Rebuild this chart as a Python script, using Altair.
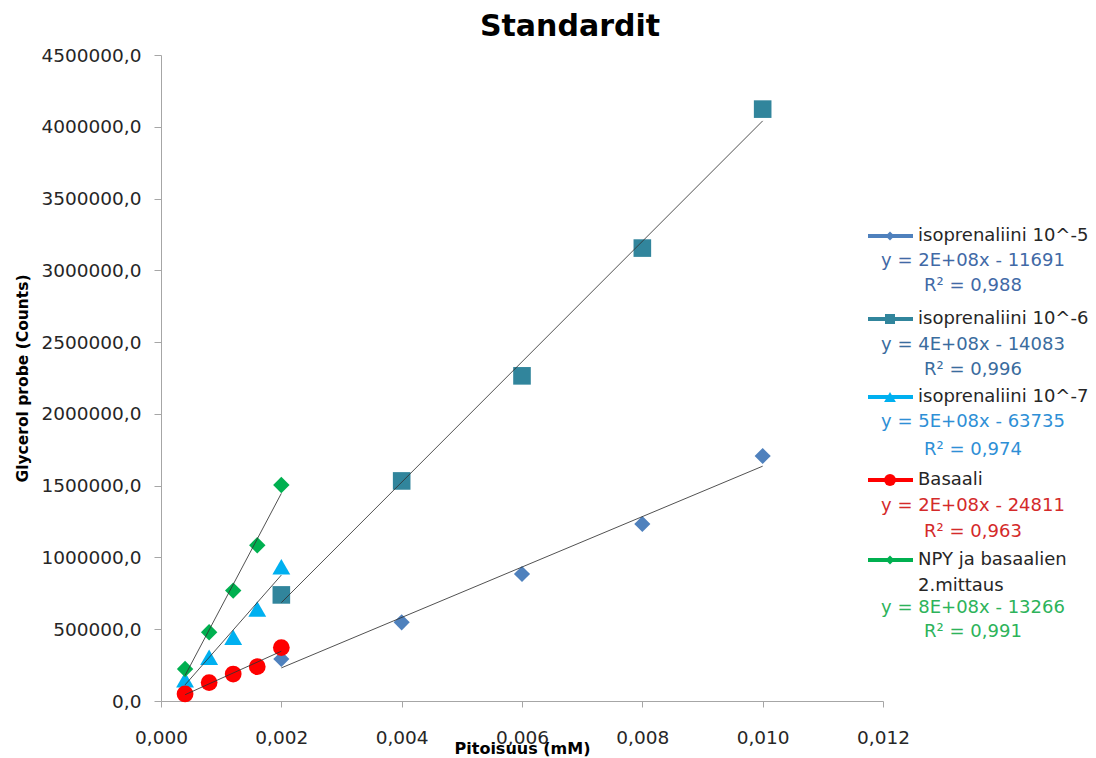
import altair as alt
import pandas as pd

# ---------------- data ----------------
series_names = [
    "isoprenaliini 10^-5",
    "isoprenaliini 10^-6",
    "isoprenaliini 10^-7",
    "Basaali",
    "NPY ja basaalien 2.mittaus",
]
x_iso5 = [0.002, 0.004, 0.006, 0.008, 0.010]
y_iso5 = [293000, 548000, 885000, 1233000, 1707000]
x_iso6 = [0.002, 0.004, 0.006, 0.008, 0.010]
y_iso6 = [739000, 1533000, 2265000, 3155000, 4123000]
x_iso7 = [0.0004, 0.0008, 0.0012, 0.0016, 0.002]
y_iso7 = [148000, 305000, 444000, 641000, 936000]
x_bas = [0.0004, 0.0008, 0.0012, 0.0016, 0.002]
y_bas = [49000, 128000, 188000, 239000, 372000]
x_npy = [0.0004, 0.0008, 0.0012, 0.0016, 0.002]
y_npy = [223000, 479000, 769000, 1085000, 1505000]

legend_labels = [
    ["isoprenaliini 10^-5"],
    ["isoprenaliini 10^-6"],
    ["isoprenaliini 10^-7"],
    ["Basaali"],
    ["NPY ja basaalien", "2.mittaus"],
]
equations = [
    "y = 2E+08x - 11691",
    "y = 4E+08x - 14083",
    "y = 5E+08x - 63735",
    "y = 2E+08x - 24811",
    "y = 8E+08x - 13266",
]
r2_texts = ["R² = 0,988", "R² = 0,996", "R² = 0,974", "R² = 0,963", "R² = 0,991"]

x_ticks = [0.0, 0.002, 0.004, 0.006, 0.008, 0.010, 0.012]
y_ticks = [0, 500000, 1000000, 1500000, 2000000, 2500000, 3000000, 3500000, 4000000, 4500000]

# ---------------- styles ----------------
colors = ["#4F81BD", "#31859C", "#00B0F0", "#FF0000", "#00B050"]
eq_colors = ["#4169A6", "#3A6C9E", "#2E8FD6", "#D42A2A", "#2DB35A"]
shapes = ["diamond", "square", "triangle-up", "circle", "diamond"]
sizes = [260, 310, 320, 280, 270]
legend_sizes = [80, 100, 140, 140, 80]

FONT = "DejaVu Sans"
AXIS_COLOR = "#A6A6A6"
W, H = 722, 646

rows = []
for name, xs, ys in zip(series_names, [x_iso5, x_iso6, x_iso7, x_bas, x_npy],
                        [y_iso5, y_iso6, y_iso7, y_bas, y_npy]):
    for xv, yv in zip(xs, ys):
        rows.append({"series": name, "x": xv, "y": yv})
df = pd.DataFrame(rows)

xscale = alt.Scale(domain=[0, 0.012], nice=False)
yscale = alt.Scale(domain=[0, 4500000], nice=False)

xaxis = alt.Axis(
    values=x_ticks,
    labelExpr="replace(format(datum.value, '.3f'), '.', ',')",
    title="Pitoisuus (mM)",
    titleFont=FONT, titleFontSize=16, titleFontWeight="bold", titleColor="#000000",
    titleY=47, titleBaseline="middle",
    labelFont=FONT, labelFontSize=18.5, labelColor="#262626", labelPadding=21,
    labelFlush=False, labelOverlap=False,
    tickSize=6, tickColor=AXIS_COLOR, domainColor=AXIS_COLOR, grid=False,
)
yaxis = alt.Axis(
    values=y_ticks,
    labelExpr="replace(format(datum.value, '.1f'), '.', ',')",
    title="Glycerol probe (Counts)",
    titleFont=FONT, titleFontSize=15.5, titleFontWeight="bold", titleColor="#000000",
    titleX=-139, titleY=H / 2, titleBaseline="middle", titleAlign="center",
    labelFont=FONT, labelFontSize=18.5, labelColor="#262626", labelPadding=13,
    labelOverlap=False,
    tickSize=7, tickColor=AXIS_COLOR, domainColor=AXIS_COLOR, grid=False,
)

layers = []

# points, one layer per series (draw order as in reference)
for i, name in enumerate(series_names):
    sub = df[df["series"] == name]
    layers.append(
        alt.Chart(sub).mark_point(
            shape=shapes[i], size=sizes[i], filled=True, color=colors[i], opacity=1
        ).encode(
            x=alt.X("x:Q", scale=xscale, axis=xaxis),
            y=alt.Y("y:Q", scale=yscale, axis=yaxis),
        )
    )

# linear trend lines
layers.append(
    alt.Chart(df).transform_regression("x", "y", groupby=["series"]).mark_line(
        color="#333333", strokeWidth=1, opacity=0.85
    ).encode(
        x=alt.X("x:Q", scale=xscale, axis=xaxis),
        y=alt.Y("y:Q", scale=yscale, axis=yaxis),
        detail="series:N",
    )
)

# title
layers.append(
    alt.Chart(pd.DataFrame({"t": ["Standardit"]})).mark_text(
        font=FONT, fontSize=30, fontWeight="bold", color="#000000",
        align="center", baseline="middle"
    ).encode(text="t:N", x=alt.value(409), y=alt.value(-28))
)

# custom legend with trendline equations
label_y = [181, 264, 342, 425, 505]
eq_y = [206, 290, 367, 451, 553]
r2_y = [231, 315, 395, 477, 577]
LINE_X0, LINE_X1, SYM_X, TXT_X, EQ_X = 707, 752, 729, 757, 812

for i in range(len(series_names)):
    one = pd.DataFrame({"series": [series_names[i]]})
    layers.append(
        alt.Chart(one).mark_rule(color=colors[i], strokeWidth=4).encode(
            x=alt.value(LINE_X0), x2=alt.value(LINE_X1), y=alt.value(label_y[i])
        )
    )
    layers.append(
        alt.Chart(one).mark_point(
            shape=shapes[i], size=legend_sizes[i], filled=True, color=colors[i], opacity=1
        ).encode(x=alt.value(SYM_X), y=alt.value(label_y[i]))
    )
    for j, line in enumerate(legend_labels[i]):
        layers.append(
            alt.Chart(pd.DataFrame({"t": [line]})).mark_text(
                font=FONT, fontSize=18, color="#262626", align="left", baseline="middle"
            ).encode(text="t:N", x=alt.value(TXT_X), y=alt.value(label_y[i] + 26 * j))
        )
    layers.append(
        alt.Chart(pd.DataFrame({"t": [equations[i]]})).mark_text(
            font=FONT, fontSize=18, color=eq_colors[i], align="center", baseline="middle"
        ).encode(text="t:N", x=alt.value(EQ_X), y=alt.value(eq_y[i]))
    )
    layers.append(
        alt.Chart(pd.DataFrame({"t": [r2_texts[i]]})).mark_text(
            font=FONT, fontSize=18, color=eq_colors[i], align="center", baseline="middle"
        ).encode(text="t:N", x=alt.value(EQ_X), y=alt.value(r2_y[i]))
    )

chart = alt.layer(*layers).properties(
    width=W,
    height=H,
    autosize=alt.AutoSizeParams(type="none"),
    padding={"left": 161, "top": 55, "right": 1096 - 161 - W, "bottom": 758 - 55 - H},
    background="#FFFFFF",
).configure_view(stroke=None)

chart.save("out.html", embed_options={"renderer": "svg", "actions": False})
